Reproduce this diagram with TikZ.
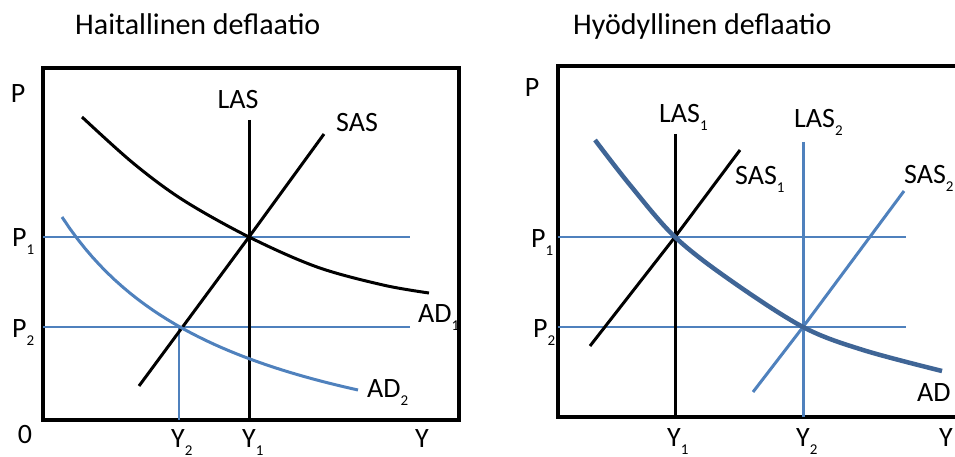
\documentclass[tikz,border=0pt]{standalone}
\usepackage{fontspec}
\setmainfont{Carlito}
\definecolor{sini}{HTML}{4F81BD}
\definecolor{tumma}{HTML}{3F6596}
\newcommand{\ala}[1]{\raisebox{-8pt}{\fontsize{15}{15}\selectfont #1}}
\begin{document}
\begin{tikzpicture}[x=1pt, y=-1pt, line join=round, font=\fontsize{28}{30}\selectfont,
every node/.style={inner sep=0pt},
kehys/.style={line width=4pt, line join=miter},
musta/.style={line width=3pt},
sinikayra/.style={sini, line width=3pt},
ohut/.style={sini, line width=1.5pt},
otsikko/.style={anchor=base west, font=\fontsize{30}{32}\selectfont}]
\useasboundingbox (0,0) rectangle (955,457);
% Haitallinen deflaatio
\draw[kehys] (43,68) rectangle (459,420);
\coordinate (E1) at (249,237);
\coordinate (E2) at (179,327);
\path 
(75,35) node[otsikko] (otsV) {Haitallinen deflaatio}
(18,103) node[anchor=base] (PV) {P}
(12,246) node[anchor=base west] (P1V) {P\ala{1}}
(12,337) node[anchor=base west] (P2V) {P\ala{2}}
(25,443) node[anchor=base] (nolla) {0}
(238,109) node[anchor=base] (LASV) {LAS}
(357,132) node[anchor=base] (SASV) {SAS}
(418,322) node[anchor=base west] (AD1V) {AD\ala{1}}
(367,397) node[anchor=base west] (AD2V) {AD\ala{2}}
(171,447) node[anchor=base west] (Y2V) {Y\ala{2}}
(242,447) node[anchor=base west] (Y1V) {Y\ala{1}}
(422,447) node[anchor=base] (YV) {Y};
\draw[ohut] (43,237)--(410,237);
\draw[ohut] (43,327)--(410,327);
\draw[ohut] (E2)--(179,420);
\draw[musta] (249,120)--(249,420);
\draw[musta] (139,386)--(E1)--(324,134);
\draw[musta] plot[smooth, tension=.55] coordinates {(82,117) (133,163) (183,200) (E1) (317,267) (383,285) (429,293)};
\draw[sinikayra] plot[domain=62:358, samples=40] (\x, {495.9-505.37/((\x+119.2)/100)});
% Hyödyllinen deflaatio
\draw[kehys] (960,66)--(558,66)--(558,417)--(960,417);
\coordinate (F1) at (675,237);
\coordinate (F2) at (803,327);
\path 
(573,35) node[otsikko] (otsO) {Hyödyllinen deflaatio}
(532,97) node[anchor=base] (PO) {P}
(531,247) node[anchor=base west] (P1O) {P\ala{1}}
(533,337) node[anchor=base west] (P2O) {P\ala{2}}
(659,123) node[anchor=base west] (LAS1O) {LAS\ala{1}}
(794,128) node[anchor=base west] (LAS2O) {LAS\ala{2}}
(735,185) node[anchor=base west] (SAS1O) {SAS\ala{1}}
(904,184) node[anchor=base west] (SAS2O) {SAS\ala{2}}
(917,401) node[anchor=base west] (ADO) {AD}
(667,446) node[anchor=base west] (Y1O) {Y\ala{1}}
(796,446) node[anchor=base west] (Y2O) {Y\ala{2}}
(939,446) node[anchor=base west] (YO) {Y};
\draw[ohut] (558,237)--(906,237);
\draw[ohut] (558,327)--(906,327);
\draw[musta] (675,134)--(675,417);
\draw[sinikayra] (803,142)--(803,417);
\draw[musta] (590,346)--(F1)--(740,150);
\draw[sinikayra] (753,392)--(F2)--(904,191);
\draw[tumma, line width=4.5pt] plot[smooth, tension=.55] coordinates {(595,140) (630,185) (F1) (730,280) (F2) (863,350) (942,371)};
\end{tikzpicture}
\end{document}
